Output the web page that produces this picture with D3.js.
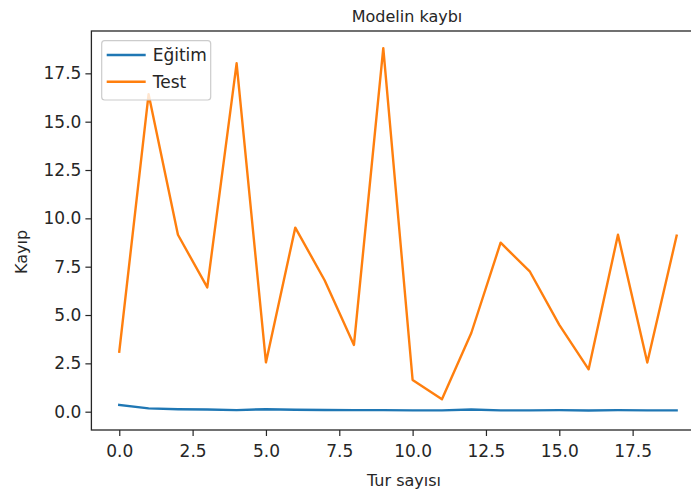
<!DOCTYPE html>
<html>
<head>
<meta charset="utf-8">
<script src="https://cdn.jsdelivr.net/npm/d3@7"></script>
<style>
  html, body { margin: 0; padding: 0; background: #fff; }
  svg { display: block; }
  text { font-family: "DejaVu Sans", sans-serif; fill: #262626; }
</style>
</head>
<body>
<svg id="chart" width="691" height="493"></svg>
<script>
const epochs = d3.range(20);
const trainLoss = [0.35, 0.17, 0.13, 0.11, 0.08, 0.13, 0.10, 0.09, 0.08, 0.08,
                   0.07, 0.07, 0.11, 0.07, 0.07, 0.08, 0.06, 0.08, 0.07, 0.07];
const testLoss = [3.10, 16.42, 9.15, 6.43, 18.02, 2.55, 9.52, 6.80, 3.45, 18.80,
                  1.64, 0.64, 4.07, 8.74, 7.24, 4.49, 2.19, 9.15, 2.54, 9.10];
const xTicks = [0, 2.5, 5, 7.5, 10, 12.5, 15, 17.5];
const yTicks = [0, 2.5, 5, 7.5, 10, 12.5, 15, 17.5];
const seriesNames = ["Eğitim", "Test"];
const colors = ["#1f77b4", "#ff7f0e"];
const titleText = "Modelin kaybı";
const xLabel = "Tur sayısı";
const yLabel = "Kayıp";

const svg = d3.select("#chart");
const mLeft = 91.4, mRight = 704.5, mTop = 31, mBottom = 430;
const x = d3.scaleLinear().domain([-0.95, 19.95]).range([mLeft, mRight]);
const y = d3.scaleLinear().domain([-0.947, 19.69]).range([mBottom, mTop]);

const fmt = d3.format(".1f");

// axes
const xAxis = svg.append("g").attr("transform", `translate(0,${mBottom})`)
  .call(d3.axisBottom(x).tickValues(xTicks).tickFormat(fmt).tickSize(6).tickPadding(5));
const yAxis = svg.append("g").attr("transform", `translate(${mLeft},0)`)
  .call(d3.axisLeft(y).tickValues(yTicks).tickFormat(fmt).tickSize(6).tickPadding(4));
[xAxis, yAxis].forEach(g => {
  g.select(".domain").remove();
  g.selectAll(".tick line").attr("stroke", "#262626").attr("stroke-width", 1.2);
  g.selectAll(".tick text").style("font-size", "17px").style("font-family", "DejaVu Sans").attr("fill", "#262626");
});
xAxis.selectAll(".tick text").attr("dy", "0.95em");

// spines
svg.append("rect").attr("x", mLeft).attr("y", mTop)
  .attr("width", mRight - mLeft).attr("height", mBottom - mTop)
  .attr("fill", "none").attr("stroke", "#262626").attr("stroke-width", 1.3);

// lines
const line = d3.line().x((d, i) => x(epochs[i])).y(d => y(d));
[trainLoss, testLoss].forEach((data, k) => {
  svg.append("path").datum(data)
    .attr("d", line).attr("fill", "none")
    .attr("stroke", colors[k]).attr("stroke-width", 2.4)
    .attr("stroke-linejoin", "round").attr("stroke-linecap", "square");
});

// legend
const lg = svg.append("g");
lg.append("rect").attr("x", 101.7).attr("y", 40.7).attr("width", 109).attr("height", 59.3)
  .attr("rx", 3).attr("fill", "#fff").attr("fill-opacity", 0.8)
  .attr("stroke", "#cccccc").attr("stroke-width", 1.2);
seriesNames.forEach((name, i) => {
  const cy = 55 + i * 26.7;
  lg.append("line").attr("x1", 106.7).attr("x2", 145.7).attr("y1", cy).attr("y2", cy)
    .attr("stroke", colors[i]).attr("stroke-width", 2.4);
  lg.append("text").attr("x", 152.7).attr("y", cy + 6.2)
    .style("font-size", "17px").text(name);
});

// title and labels
svg.append("text").attr("x", 407).attr("y", 21.5).attr("text-anchor", "middle")
  .style("font-size", "16px").text(titleText);
svg.append("text").attr("x", 404).attr("y", 485.5).attr("text-anchor", "middle")
  .style("font-size", "16px").text(xLabel);
svg.append("text").attr("transform", "translate(27,252) rotate(-90)")
  .attr("text-anchor", "middle").style("font-size", "16px").text(yLabel);
</script>
</body>
</html>
